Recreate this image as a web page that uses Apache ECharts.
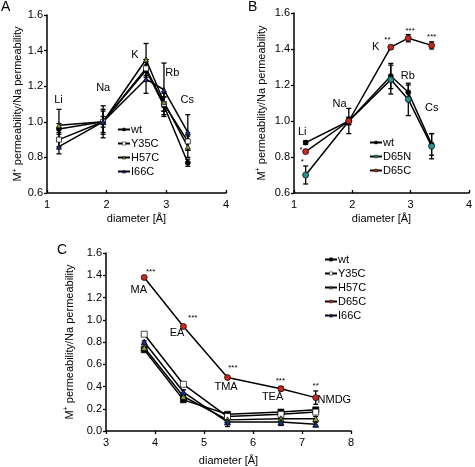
<!DOCTYPE html>
<html><head><meta charset="utf-8">
<script src="https://cdn.jsdelivr.net/npm/echarts@6/dist/echarts.min.js"></script>
<style>html,body{margin:0;padding:0;background:#fff}#c{width:475px;height:467px}</style>
</head><body><div id="c"></div>
<script>
// ---------- data ----------
const ions = ['Li', 'Na', 'K', 'Rb', 'Cs'];
const ionDiameter = [1.2, 1.94, 2.66, 2.96, 3.36];

// Panel A
const aWt = [0.96, 1.00, 1.29, 1.09, 0.77];
const aWtErr = [0.03, 0.07, 0.06, 0.05, 0.02];
const aY35C = [0.90, 1.00, 1.30, 1.10, 0.89];
const aY35CErr = [0.04, 0.06, 0.05, 0.04, 0.05];
const aH57C = [0.98, 1.00, 1.35, 1.11, 0.86];
const aH57CErr = [0.09, 0.09, 0.09, 0.05, 0.06];
const aI66C = [0.86, 1.00, 1.24, 1.18, 0.94];
const aI66CErr = [0.04, 0.03, 0.08, 0.15, 0.10];

// Panel B
const bWt = [0.88, 1.00, 1.25, 1.16, 0.87];
const bWtErr = [0.01, 0.07, 0.07, 0.04, 0.06];
const bD65N = [0.70, 1.00, 1.23, 1.12, 0.86];
const bD65NErr = [0.05, 0.02, 0.08, 0.09, 0.07];
const bD65C = [0.83, 1.00, 1.41, 1.46, 1.42];
const bD65CErr = [0.01, 0.02, 0.01, 0.02, 0.02];

// Panel C
const organic = ['MA', 'EA', 'TMA', 'TEA', 'NMDG'];
const organicDiameter = [3.78, 4.58, 5.48, 6.57, 7.28];
const cWt = [0.73, 0.28, 0.15, 0.17, 0.19];
const cWtErr = [0.01, 0.01, 0.01, 0.02, 0.02];
const cY35C = [0.87, 0.42, 0.13, 0.15, 0.17];
const cY35CErr = [0.01, 0.01, 0.02, 0.02, 0.02];
const cH57C = [0.75, 0.31, 0.10, 0.11, 0.11];
const cH57CErr = [0.01, 0.01, 0.03, 0.02, 0.02];
const cD65C = [1.38, 0.94, 0.48, 0.38, 0.30];
const cD65CErr = [0.01, 0.01, 0.01, 0.02, 0.06];
const cI66C = [0.80, 0.35, 0.08, 0.08, 0.06];
const cI66CErr = [0.01, 0.02, 0.04, 0.03, 0.02];

// significance marks
const bStars = ['*', '*', '**', '***', '***'];
const cStars = ['***', '***', '***', '***', '**'];

// tick labels
const xTicksAB = ['1', '2', '3', '4'];
const yTicksAB = ['0.6', '0.8', '1.0', '1.2', '1.4', '1.6'];
const xTicksC = ['3', '4', '5', '6', '7', '8'];
const yTicksC = ['0.0', '0.2', '0.4', '0.6', '0.8', '1.0', '1.2', '1.4', '1.6'];

// ---------- annotation anchors (data space) ----------
const ionLabelAnchorA = [[1.2, 1.12], [1.95, 1.19], [2.48, 1.37], [3.11, 1.27], [3.36, 1.12]];
const ionLabelAnchorB = [[1.15, 0.935], [1.79, 1.09], [2.41, 1.41], [2.96, 1.25], [3.37, 1.07]];
const starAnchorB = [[1.13, 0.84], [1.15, 0.77], [2.61, 1.45], [3.0, 1.50], [3.37, 1.465]];
const orgLabelAnchorC = [[3.68, 1.26], [4.46, 0.88], [5.46, 0.39], [6.41, 0.30], [7.67, 0.27]];
const starAnchorC = [[3.92, 1.43], [4.78, 1.015], [5.60, 0.56], [6.57, 0.45], [7.29, 0.40]];

// ---------- helpers ----------
const FONT = "'Liberation Sans', Arial, sans-serif";
const pairs = (xs, ys) => xs.map((x, i) => [x, ys[i]]);
const errs = (xs, ys, es) => xs.map((x, i) => [x, ys[i] - es[i], ys[i] + es[i]]);

function errRender(params, api) {
  const x = api.value(0);
  const p1 = api.coord([x, api.value(1)]);
  const p2 = api.coord([x, api.value(2)]);
  const w = 2.5;
  const st = { stroke: '#000', lineWidth: 1.3 };
  return {
    type: 'group', children: [
      { type: 'line', shape: { x1: p1[0], y1: p1[1], x2: p2[0], y2: p2[1] }, style: st },
      { type: 'line', shape: { x1: p1[0] - w, y1: p1[1], x2: p1[0] + w, y2: p1[1] }, style: st },
      { type: 'line', shape: { x1: p2[0] - w, y1: p2[1], x2: p2[0] + w, y2: p2[1] }, style: st }
    ]
  };
}

function lineSeries(name, grid, xs, ys, symbol, color, size) {
  return {
    name: name, type: 'line', xAxisIndex: grid, yAxisIndex: grid,
    data: pairs(xs, ys), symbol: symbol, symbolSize: size,
    lineStyle: { color: '#000', width: 1.5 },
    itemStyle: { color: color, borderColor: '#000', borderWidth: 0.7 },
    z: 3, animation: false
  };
}
function errSeries(grid, xs, ys, es) {
  return {
    type: 'custom', xAxisIndex: grid, yAxisIndex: grid,
    data: errs(xs, ys, es), renderItem: errRender, z: 2, animation: false,
    encode: { x: 0, y: [1, 2] }, silent: true
  };
}
function textSeries(grid, anchors, texts, size) {
  return {
    type: 'scatter', xAxisIndex: grid, yAxisIndex: grid, symbolSize: 1,
    itemStyle: { opacity: 1, color: 'rgba(0,0,0,0)' },
    data: anchors.map((a, i) => [a[0], a[1], texts[i]]),
    label: {
      show: true, position: [0, 0], align: 'center', verticalAlign: 'middle',
      formatter: p => p.value[2], opacity: 1,
      color: '#000', fontSize: size, fontFamily: FONT, fontWeight: 'normal',
      textBorderWidth: 0
    },
    z: 5, silent: true, animation: false
  };
}

const yName = '{m|M}{s|+}{n| permeability/Na permeability}';
const yNameRich = {
  m: { fontSize: 11, fontFamily: FONT, color: '#000', fontWeight: 'normal' },
  s: { fontSize: 7, fontFamily: FONT, color: '#000', fontWeight: 'normal', verticalAlign: 'top', padding: [0, 0, 6, 0] },
  n: { fontSize: 11, fontFamily: FONT, color: '#000', fontWeight: 'normal' }
};

function xAxis(grid, min, max, ticks, inside, gap) {
  return {
    type: 'value', gridIndex: grid, min: min, max: max, interval: 1,
    name: '{n|diameter [Å]}', nameLocation: 'middle', nameGap: gap,
    nameTextStyle: { fontWeight: 'normal', rich: { n: { fontSize: 11, fontFamily: FONT, color: '#000', fontWeight: 'normal' } } },
    axisLine: { lineStyle: { color: '#000', width: 1.5 } },
    axisTick: { inside: inside, length: 3, lineStyle: { color: '#000', width: 1.3 } },
    axisLabel: { fontSize: 11, fontFamily: FONT, color: '#000', margin: 6,
      formatter: v => ticks[Math.round(v - min)] },
    splitLine: { show: false }
  };
}
function yAxis(grid, min, max, ticks, gap) {
  return {
    type: 'value', gridIndex: grid, min: min, max: max, interval: 0.2,
    name: yName, nameLocation: 'middle', nameGap: gap,
    nameTextStyle: { fontWeight: 'normal', rich: yNameRich },
    axisLine: { show: true, lineStyle: { color: '#000', width: 1.5 } },
    axisTick: { show: true, length: 3, lineStyle: { color: '#000', width: 1.3 } },
    axisLabel: { fontSize: 11, fontFamily: FONT, color: '#000', margin: 4,
      formatter: v => ticks[Math.round((v - min) / 0.2)] },
    splitLine: { show: false }
  };
}

const legendBase = {
  orient: 'vertical', itemWidth: 12, itemHeight: 4, itemGap: 3,
  itemStyle: { borderWidth: 0.5 },
  textStyle: { fontSize: 11, fontFamily: FONT, color: '#000', padding: [0, 0, 0, -4] },
  formatter: n => n.split(':')[1], selectedMode: false
};

const chart = echarts.init(document.getElementById('c'), null, { renderer: 'canvas' });
chart.setOption({
  backgroundColor: '#fff',
  animation: false,
  textStyle: { fontFamily: FONT },
  grid: [
    { left: 47, top: 15, width: 179, height: 178 },
    { left: 294, top: 13, width: 179, height: 180 },
    { left: 106, top: 253, width: 245, height: 180 }
  ],
  xAxis: [xAxis(0, 1, 4, xTicksAB, true, 20), xAxis(1, 1, 4, xTicksAB, true, 20), xAxis(2, 3, 8, xTicksC, false, 24)],
  yAxis: [yAxis(0, 0.6, 1.6, yTicksAB, 22), yAxis(1, 0.6, 1.6, yTicksAB, 26), yAxis(2, 0, 1.6, yTicksC, 30)],
  legend: [
    Object.assign({}, legendBase, { left: 112, top: 119, data: ['A:wt', 'A:Y35C', 'A:H57C', 'A:I66C'] }),
    Object.assign({}, legendBase, { left: 364, top: 132, data: ['B:wt', 'B:D65N', 'B:D65C'] }),
    Object.assign({}, legendBase, { left: 319, top: 249, data: ['C:wt', 'C:Y35C', 'C:H57C', 'C:D65C', 'C:I66C'] })
  ],
  graphic: [
    { type: 'text', left: 1, top: 0, style: { text: 'A', fontSize: 14, fontFamily: FONT, fill: '#000' } },
    { type: 'text', left: 248, top: 0, style: { text: 'B', fontSize: 14, fontFamily: FONT, fill: '#000' } },
    { type: 'text', left: 57, top: 243, style: { text: 'C', fontSize: 14, fontFamily: FONT, fill: '#000' } }
  ],
  series: [
    errSeries(0, ionDiameter, aWt, aWtErr),
    errSeries(0, ionDiameter, aY35C, aY35CErr),
    errSeries(0, ionDiameter, aH57C, aH57CErr),
    errSeries(0, ionDiameter, aI66C, aI66CErr),
    lineSeries('A:wt', 0, ionDiameter, aWt, 'circle', '#000', 5),
    lineSeries('A:Y35C', 0, ionDiameter, aY35C, 'rect', '#fff', 5),
    lineSeries('A:H57C', 0, ionDiameter, aH57C, 'triangle', '#8c9a2e', 5),
    lineSeries('A:I66C', 0, ionDiameter, aI66C, 'triangle', '#1c2a8c', 5),
    textSeries(0, ionLabelAnchorA, ions, 11),

    errSeries(1, ionDiameter, bWt, bWtErr),
    errSeries(1, ionDiameter, bD65N, bD65NErr),
    errSeries(1, ionDiameter, bD65C, bD65CErr),
    lineSeries('B:wt', 1, ionDiameter, bWt, 'circle', '#000', 5),
    lineSeries('B:D65N', 1, ionDiameter, bD65N, 'circle', '#2a8f8f', 6),
    lineSeries('B:D65C', 1, ionDiameter, bD65C, 'circle', '#c8281e', 6),
    textSeries(1, ionLabelAnchorB, ions, 11),
    textSeries(1, starAnchorB, bStars, 8),

    errSeries(2, organicDiameter, cWt, cWtErr),
    errSeries(2, organicDiameter, cY35C, cY35CErr),
    errSeries(2, organicDiameter, cH57C, cH57CErr),
    errSeries(2, organicDiameter, cD65C, cD65CErr),
    errSeries(2, organicDiameter, cI66C, cI66CErr),
    lineSeries('C:wt', 2, organicDiameter, cWt, 'rect', '#000', 6),
    lineSeries('C:Y35C', 2, organicDiameter, cY35C, 'rect', '#fff', 6),
    lineSeries('C:H57C', 2, organicDiameter, cH57C, 'triangle', '#8c9a2e', 6),
    lineSeries('C:D65C', 2, organicDiameter, cD65C, 'circle', '#c8281e', 6),
    lineSeries('C:I66C', 2, organicDiameter, cI66C, 'triangle', '#1c2a8c', 6),
    textSeries(2, orgLabelAnchorC, organic, 11),
    textSeries(2, starAnchorC, cStars, 8)
  ]
});
</script></body></html>
